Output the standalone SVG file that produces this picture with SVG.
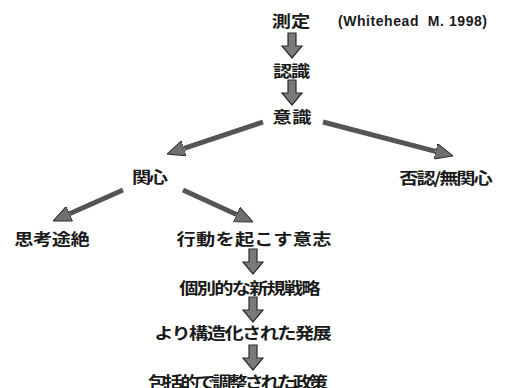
<svg xmlns="http://www.w3.org/2000/svg" width="512" height="388" viewBox="0 0 512 388">
<defs>
<style>
.t{font-family:"Noto Sans CJK JP","Noto Sans CJK SC",sans-serif;font-size:16px;font-weight:700;fill:#1a1a1a;text-anchor:middle;dominant-baseline:central}
.c{font-family:"Liberation Sans",Arial,sans-serif;font-size:14px;font-weight:700;fill:#1a1a1a;dominant-baseline:central}
.blk{fill:#7a7a7a;stroke:#2a2a2a;stroke-width:1.2;stroke-linejoin:miter}
.ln{stroke:#555;stroke-width:5;fill:none;marker-end:url(#head)}
</style>
<marker id="head" viewBox="0 0 18 16" refX="0" refY="8" markerWidth="18" markerHeight="16" markerUnits="userSpaceOnUse" orient="auto">
<path d="M0,0 L18,8 L0,16 Z" fill="#6f6f6f" stroke="#2a2a2a" stroke-width="1"/>
</marker>
<path id="down" class="blk" d="M-4,0 H4 V13 H10 L0,25 L-10,13 H-4 Z"/>
</defs>
<rect width="512" height="388" fill="#fff"/>
<g id="n-sokutei" transform="translate(291 20.5) scale(1.2 1)"><text class="t" textLength="32">測定</text></g>
<g id="citation"><text class="c" x="338" y="21" textLength="149" xml:space="preserve">(Whitehead  M. 1998)</text></g>
<g id="n-ninshiki" transform="translate(291.5 70) scale(1.2 1)"><text class="t" textLength="31">認識</text></g>
<g id="n-ishiki" transform="translate(292 116) scale(1.2 1)"><text class="t" textLength="32.5">意識</text></g>
<g id="n-kanshin" transform="translate(150 176) scale(1.2 1)"><text class="t" textLength="30">関心</text></g>
<g id="n-hinin" transform="translate(446 177) scale(1.2 1)"><text class="t" textLength="78">否認/無関心</text></g>
<g id="n-shiko" transform="translate(52 238) scale(1.2 1)"><text class="t" textLength="63">思考途絶</text></g>
<g id="n-kodo" transform="translate(254 238.5) scale(1.2 1)"><text class="t" textLength="129">行動を起こす意志</text></g>
<g id="n-kobetsu" transform="translate(250 287.5) scale(1.2 1)"><text class="t" textLength="118">個別的な新規戦略</text></g>
<g id="n-kozo" transform="translate(243 332.5) scale(1.2 1)"><text class="t" textLength="148">より構造化された発展</text></g>
<g id="n-hokatsu" transform="translate(238 381.5) scale(1.2 1)"><text class="t" textLength="150">包括的で調整された政策</text></g>
<g id="connectors">
<use href="#down" x="292" y="33"/>
<use href="#down" x="292" y="80"/>
<line class="ln" x1="263" y1="122" x2="184.1" y2="148.3"/>
<line class="ln" x1="323" y1="122" x2="435.6" y2="151.4"/>
<line class="ln" x1="123" y1="190" x2="69.5" y2="213.7"/>
<line class="ln" x1="183" y1="190" x2="236.6" y2="214.5"/>
<use href="#down" x="253" y="249"/>
<use href="#down" x="253" y="297"/>
<use href="#down" x="253" y="345"/>
</g>
</svg>
